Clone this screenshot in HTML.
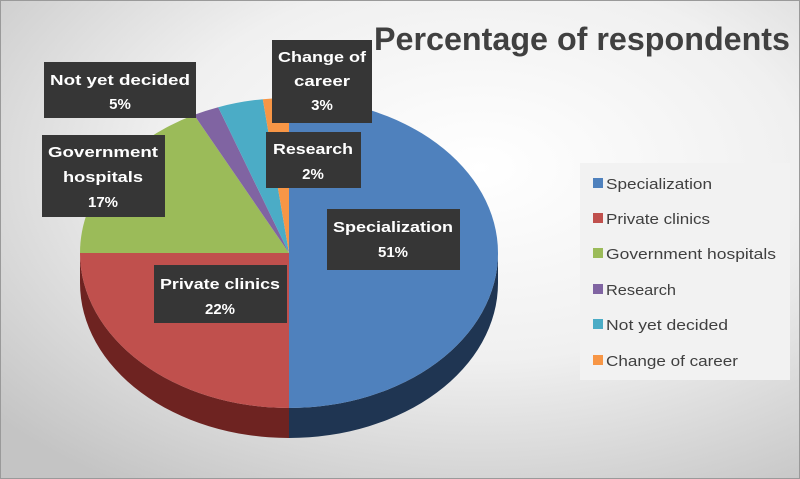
<!DOCTYPE html>
<html><head><meta charset="utf-8"><style>
html,body{margin:0;padding:0;background:#fff}
svg{display:block}
text{font-family:"Liberation Sans",Arial,sans-serif}
.lb{fill:#fff;font-weight:bold;font-size:15px;text-anchor:middle}
.lg{fill:#404040;font-size:15px}
</style></head><body>
<svg width="800" height="479" viewBox="0 0 800 479" xmlns="http://www.w3.org/2000/svg">
<defs>
<radialGradient id="bg" cx="0.6" cy="0.35" r="0.8">
<stop offset="0" stop-color="#ffffff"/>
<stop offset="0.5" stop-color="#f0f0f0"/>
<stop offset="1" stop-color="#c4c4c4"/>
</radialGradient>
</defs>
<rect x="0" y="0" width="800" height="479" fill="url(#bg)"/>
<rect x="0.5" y="0.5" width="799" height="478" fill="none" stroke="#9a9a9a"/>
<path d="M498,253 A209,155 0 0 1 289,408 L289,438 A209,155 0 0 0 498,283 Z" fill="#1f3552"/>
<path d="M289,408 A209,155 0 0 1 80,253 L80,283 A209,155 0 0 0 289,438 Z" fill="#6e2321"/>
<path d="M289,253 L289,98 A209,155 0 0 1 498,253 A209,155 0 0 1 289,408 Z" fill="#4f81bd"/>
<path d="M289,253 L289,408 A209,155 0 0 1 80,253 Z" fill="#c0504d"/>
<path d="M289,253 L80,253 A209,155 0 0 1 194.1,114.9 Z" fill="#9bbb59"/>
<path d="M289,253 L194.1,114.9 A209,155 0 0 1 218.2,107.2 Z" fill="#8064a2"/>
<path d="M289,253 L218.2,107.2 A209,155 0 0 1 262.8,99.2 Z" fill="#4bacc6"/>
<path d="M289,253 L262.8,99.2 A209,155 0 0 1 289,98 Z" fill="#f79646"/>
<text x="374" y="50" font-size="32" font-weight="bold" fill="#404040" textLength="416" lengthAdjust="spacingAndGlyphs">Percentage of respondents</text>
<g fill="#363636">
<rect x="44" y="62" width="152" height="56"/>
<rect x="272" y="40" width="100" height="83"/>
<rect x="42" y="135" width="123" height="82"/>
<rect x="266" y="132" width="95" height="56"/>
<rect x="327" y="209" width="133" height="61"/>
<rect x="154" y="265" width="133" height="58"/>
</g>
<text class="lb" x="120" y="85" textLength="140" lengthAdjust="spacingAndGlyphs">Not yet decided</text>
<text class="lb" x="120" y="109">5%</text>
<text class="lb" x="322" y="62" textLength="88" lengthAdjust="spacingAndGlyphs">Change of</text>
<text class="lb" x="322" y="86" textLength="56" lengthAdjust="spacingAndGlyphs">career</text>
<text class="lb" x="322" y="110">3%</text>
<text class="lb" x="103" y="157" textLength="110" lengthAdjust="spacingAndGlyphs">Government</text>
<text class="lb" x="103" y="182" textLength="80" lengthAdjust="spacingAndGlyphs">hospitals</text>
<text class="lb" x="103" y="207">17%</text>
<text class="lb" x="313" y="154" textLength="80" lengthAdjust="spacingAndGlyphs">Research</text>
<text class="lb" x="313" y="179">2%</text>
<text class="lb" x="393" y="232" textLength="120" lengthAdjust="spacingAndGlyphs">Specialization</text>
<text class="lb" x="393" y="257">51%</text>
<text class="lb" x="220" y="289" textLength="120" lengthAdjust="spacingAndGlyphs">Private clinics</text>
<text class="lb" x="220" y="314">22%</text>
<rect x="580" y="163" width="210" height="217" fill="#f2f2f2"/>
<rect x="593" y="178" width="10" height="10" fill="#4f81bd"/>
<rect x="593" y="213" width="10" height="10" fill="#c0504d"/>
<rect x="593" y="248" width="10" height="10" fill="#9bbb59"/>
<rect x="593" y="284" width="10" height="10" fill="#8064a2"/>
<rect x="593" y="319" width="10" height="10" fill="#4bacc6"/>
<rect x="593" y="355" width="10" height="10" fill="#f79646"/>
<text class="lg" x="606" y="189" textLength="106" lengthAdjust="spacingAndGlyphs">Specialization</text>
<text class="lg" x="606" y="224" textLength="104" lengthAdjust="spacingAndGlyphs">Private clinics</text>
<text class="lg" x="606" y="259" textLength="170" lengthAdjust="spacingAndGlyphs">Government hospitals</text>
<text class="lg" x="606" y="295" textLength="70" lengthAdjust="spacingAndGlyphs">Research</text>
<text class="lg" x="606" y="330" textLength="122" lengthAdjust="spacingAndGlyphs">Not yet decided</text>
<text class="lg" x="606" y="366" textLength="132" lengthAdjust="spacingAndGlyphs">Change of career</text>
</svg>
</body></html>
